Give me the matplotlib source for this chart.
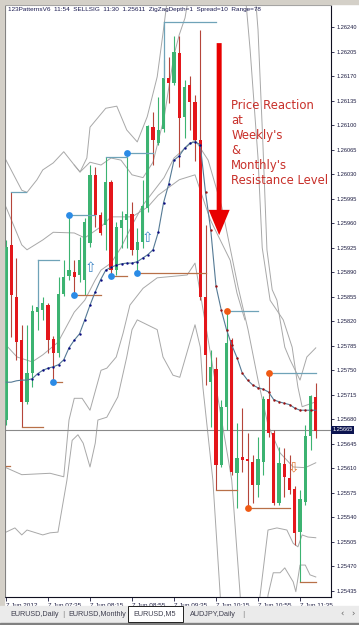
import numpy as np
import matplotlib
matplotlib.use('Agg')
import matplotlib.pyplot as plt
from matplotlib.patches import Rectangle

# EURUSD M5, 7 Jun 2012, bars from 06:55 to 11:50
opens = [1.25679, 1.25929, 1.25855, 1.25793, 1.25705, 1.25746, 1.25833, 1.25836, 1.25843, 1.25795,
         1.25775, 1.25859, 1.25885, 1.25890, 1.25886, 1.25879, 1.25932, 1.26029, 1.25972, 1.25957,
         1.26019, 1.25893, 1.25953, 1.25965, 1.25973, 1.25922, 1.25933, 1.25982, 1.26097, 1.26074,
         1.26094, 1.26167, 1.26160, 1.26203, 1.26112, 1.26157, 1.26133, 1.26079, 1.25855, 1.25733,
         1.25752, 1.25615, 1.25698, 1.25793, 1.25603, 1.25626, 1.25623, 1.25619, 1.25586, 1.25619,
         1.25709, 1.25661, 1.25561, 1.25616, 1.25596, 1.25581, 1.25519, 1.25562, 1.25656, 1.25712]
highs = [1.25936, 1.26004, 1.25910, 1.25815, 1.25815, 1.25843, 1.25850, 1.25855, 1.25846, 1.25799,
         1.25883, 1.25907, 1.25972, 1.25907, 1.25940, 1.25967, 1.26043, 1.26040, 1.25976, 1.26054,
         1.26022, 1.25962, 1.25977, 1.26060, 1.25990, 1.25953, 1.26022, 1.26100, 1.26119, 1.26140,
         1.26193, 1.26197, 1.26227, 1.26227, 1.26164, 1.26170, 1.26143, 1.26236, 1.25957, 1.25779,
         1.25769, 1.25708, 1.25832, 1.25796, 1.25675, 1.25696, 1.25661, 1.25629, 1.25655, 1.25713,
         1.25746, 1.25665, 1.25641, 1.25639, 1.25629, 1.25585, 1.25579, 1.25672, 1.25715, 1.25732]
lows = [1.25672, 1.25798, 1.25765, 1.25669, 1.25702, 1.25726, 1.25808, 1.25822, 1.25775, 1.25733,
        1.25769, 1.25856, 1.25879, 1.25857, 1.25876, 1.25857, 1.25926, 1.25955, 1.25943, 1.25922,
        1.25885, 1.25886, 1.25925, 1.25925, 1.25915, 1.25889, 1.25925, 1.25976, 1.26043, 1.26072,
        1.26090, 1.26132, 1.26157, 1.26040, 1.26082, 1.26093, 1.26049, 1.25850, 1.25729, 1.25669,
        1.25579, 1.25612, 1.25665, 1.25601, 1.25553, 1.25605, 1.25553, 1.25561, 1.25569, 1.25601,
        1.25655, 1.25558, 1.25558, 1.25569, 1.25573, 1.25501, 1.25448, 1.25558, 1.25636, 1.25653]
closes = [1.25926, 1.25857, 1.25790, 1.25705, 1.25746, 1.25835, 1.25840, 1.25846, 1.25793, 1.25775,
          1.25859, 1.25883, 1.25893, 1.25883, 1.25907, 1.25962, 1.26029, 1.25972, 1.25946, 1.26019,
          1.25893, 1.25955, 1.25965, 1.25973, 1.25922, 1.25933, 1.25985, 1.26099, 1.26079, 1.26093,
          1.26167, 1.26160, 1.26204, 1.26110, 1.26154, 1.26133, 1.26079, 1.25855, 1.25772, 1.25755,
          1.25615, 1.25698, 1.25789, 1.25605, 1.25625, 1.25622, 1.25621, 1.25586, 1.25623, 1.25709,
          1.25661, 1.25561, 1.25618, 1.25598, 1.25579, 1.25518, 1.25566, 1.25656, 1.25713, 1.25663]

# dotted moving average
ma = [1.25733, 1.25733, 1.25735, 1.25736, 1.25736, 1.25738, 1.25745, 1.25750, 1.25753, 1.25755,
      1.25758, 1.25765, 1.25782, 1.25793, 1.25802, 1.25822, 1.25843, 1.25862, 1.25879, 1.25893,
      1.25897, 1.25900, 1.25902, 1.25903, 1.25903, 1.25905, 1.25910, 1.25915, 1.25922, 1.25947,
      1.25989, 1.26016, 1.26050, 1.26056, 1.26067, 1.26074, 1.26076, 1.26072, 1.26004, 1.25950,
      1.25870, 1.25836, 1.25808, 1.25786, 1.25768, 1.25746, 1.25736, 1.25729, 1.25725, 1.25723,
      1.25719, 1.25708, 1.25705, 1.25703, 1.25701, 1.25696, 1.25693, 1.25693, 1.25693, 1.25693]

# band lines (bar position, price)
bands = {
    'u3': ([0, 3, 4, 5.9, 7, 9, 11, 13, 14.1, 16, 18.1, 20, 21.9, 24, 26.1, 28, 30.1, 31, 32, 33, 34.1, 35],
           [1.26050, 1.26007, 1.26004, 1.26022, 1.26036, 1.26046, 1.26062, 1.26043, 1.26033, 1.26047, 1.26043,
            1.26053, 1.26050, 1.26029, 1.26025, 1.26047, 1.26110, 1.26153, 1.26200, 1.26229, 1.26253, 1.26293]),
    'g1': ([13, 14.1, 15.4, 16, 19, 21.1, 23, 25, 26.9, 28.8, 29.9, 31.2],
           [1.26043, 1.26033, 1.26053, 1.26097, 1.26124, 1.26127, 1.26093, 1.26076, 1.26112, 1.26169,
            1.26231, 1.26307]),
    'u2': ([0, 3, 4, 7, 9, 13, 15, 18.1, 20, 24, 27, 29, 33, 36, 38.9, 42.7, 44, 45.5],
           [1.25983, 1.25929, 1.25922, 1.25936, 1.25947, 1.25946, 1.25939, 1.25955, 1.25969, 1.25969,
            1.25983, 1.26000, 1.26022, 1.26029, 1.25965, 1.25907, 1.25860, 1.25822]),
    'mid': ([0, 2.1, 5, 7, 9.9, 13, 15, 17, 18.1, 20, 21.9, 24, 26.1, 30.1, 32, 34.1, 36, 38.5, 41.1,
             44.2, 46.1, 48, 49.9, 52.2, 54.7, 57, 59],
            [1.25786, 1.25769, 1.25762, 1.25772, 1.25790, 1.25833, 1.25850, 1.25879, 1.25893, 1.25903,
             1.25925, 1.25957, 1.25986, 1.26025, 1.26053, 1.26067, 1.26079, 1.26050, 1.25983, 1.25869,
             1.25808, 1.25736, 1.25672, 1.25632, 1.25612, 1.25611, 1.25618]),
    'ra': ([45.5, 46.5, 48, 48.8, 50.3, 52.8, 54.5, 55.6, 56.4, 59],
           [1.26293, 1.26207, 1.26053, 1.25925, 1.25850, 1.25822, 1.25783, 1.25726, 1.25698, 1.25705]),
    'rb': ([47.4, 48, 48.9, 49.7, 50.7, 51.6, 52.2, 53.1, 54.1, 56, 57.3, 59],
           [1.26293, 1.26236, 1.26079, 1.25922, 1.25865, 1.25850, 1.25822, 1.25783, 1.25765, 1.25736,
            1.25769, 1.25782]),
    'l2': ([0, 3, 8.4, 11, 12, 13, 14.5, 16, 18.1, 19.2, 21, 22.3, 23.6, 26.1, 28.8, 34.5, 36, 37, 39.8,
            43, 44.6, 45],
           [1.25611, 1.25601, 1.25603, 1.25598, 1.25679, 1.25710, 1.25710, 1.25693, 1.25750, 1.25753,
            1.25769, 1.25803, 1.25843, 1.25867, 1.25882, 1.25886, 1.25903, 1.25860, 1.25736, 1.25593,
            1.25429, 1.25365]),
    'l2r': ([47.4, 48.4, 49.9, 51.6, 53.5, 54.7, 55.6, 56.4, 57.5, 59],
            [1.25365, 1.25429, 1.25522, 1.25525, 1.25522, 1.25503, 1.25498, 1.25515, 1.25512, 1.25511]),
    'l3': ([0, 1.7, 3, 4, 7, 8.4, 9.9, 11.6, 12.6, 13.7, 14.7, 16, 17, 17.5, 19.2, 21.3, 23, 24, 25,
            26.9, 28.8, 29.9, 31.8, 33.1, 36, 37, 37.5, 39.4, 40.8, 41.2],
           [1.25519, 1.25525, 1.25515, 1.25522, 1.25515, 1.25518, 1.25519, 1.25593, 1.25650, 1.25658,
            1.25646, 1.25612, 1.25646, 1.25679, 1.25683, 1.25712, 1.25769, 1.25808, 1.25822, 1.25815,
            1.25808, 1.25769, 1.25743, 1.25740, 1.25815, 1.25783, 1.25726, 1.25593, 1.25429, 1.25365]),
    'l3r': ([49.2, 49.9, 50.9, 52.2, 53.1, 54.7, 55.2, 56, 57, 57.9, 59],
            [1.25365, 1.25429, 1.25461, 1.25461, 1.25468, 1.25448, 1.25434, 1.25472, 1.25472, 1.25458,
             1.25455]),
}

# 123 pattern levels: (start bar, end bar, price)
teal_levels = [(1, 3.8, 1.26004), (6, 10, 1.25907), (12, 17, 1.25972), (19, 23, 1.26054),
               (23, 28, 1.26060), (30, 40, 1.26247), (42, 48, 1.25835), (50, 59, 1.25746)]
brown_levels = [(0, 0.8, 1.25613), (3, 7, 1.25669), (9, 10.7, 1.25733), (13, 18, 1.25857),
                (20, 23, 1.25885), (25, 38, 1.25889), (40, 44, 1.25579), (46, 54, 1.25553),
                (56, 59, 1.25448)]
blue_pts_x = [9, 12, 13, 20, 23, 25]
blue_pts_y = [1.25733, 1.25972, 1.25857, 1.25885, 1.26060, 1.25889]
orange_pts_x = [42, 46, 50]
orange_pts_y = [1.25835, 1.25553, 1.25746]
buy_arrows = [(16, 1.25896), (26.9, 1.25939)]
sell_arrows = [(54.8, 1.25612)]

current_price = 1.25665
yticks = [1.25435 + 0.00035 * k for k in range(24)]
xtick_bars = [0, 8, 16, 24, 32, 40, 48, 56]
xtick_labels = ['7 Jun 2012', '7 Jun 07:35', '7 Jun 08:15', '7 Jun 08:55',
                '7 Jun 09:35', '7 Jun 10:15', '7 Jun 10:55', '7 Jun 11:35']
tabs = ['EURUSD,Daily', 'EURUSD,Monthly', 'EURUSD,M5', 'AUDJPY,Daily']

W, H = 359, 625
fig = plt.figure(figsize=(W / 100, H / 100), dpi=100)
fig.patch.set_facecolor('white')
ax = fig.add_axes([5 / W, 28 / H, 326 / W, 592 / H])
ax.set_xlim(-0.19, 61.9)
ax.set_ylim(1.254264, 1.262714)

# bands
for name, (bx, by) in bands.items():
    ax.plot(bx, by, color='#a8a8a8', lw=0.7, zorder=2)

# current price line
ax.axhline(current_price, color='#8a8a8a', lw=0.8, zorder=2)

# candles
o = np.array(opens); h = np.array(highs); l = np.array(lows); c = np.array(closes)
idx = np.arange(len(o))
up = c >= o
body_col = np.where(up, '#3cb371', '#e4161b')
wick_col = np.where(up, '#3cb371', '#b5453a')
ax.vlines(idx, l, h, colors=wick_col, lw=0.8, zorder=3)
ax.bar(idx, np.maximum(np.abs(c - o), 0.000015), bottom=np.minimum(o, c), width=0.6,
       color=body_col, lw=0, zorder=4)

# pattern lines
for x0, x1, p in teal_levels:
    ax.plot([x0, x1], [p, p], color='#6fa3b8', lw=0.9, zorder=5)
ax.plot([6, 6], [1.25907, 1.25840], color='#6fa3b8', lw=0.9, zorder=5)
ax.plot([30, 30], [1.26247, 1.26167], color='#6fa3b8', lw=0.9, zorder=5)
for x0, x1, p in brown_levels:
    ax.plot([x0, x1], [p, p], color='#b87048', lw=0.9, zorder=5)

# dotted moving average
ma = np.array(ma)
ax.plot(idx, ma, color='#557a95', lw=0.8, zorder=6)
ax.scatter(idx[5:38], ma[5:38], s=3, color='#0a0a80', zorder=7, lw=0)
ax.scatter(idx[38:59], ma[38:59], s=3, color='#9b1010', zorder=7, lw=0)

ax.scatter(blue_pts_x, blue_pts_y, s=24, color='#2b8be6', zorder=8, lw=0)
ax.scatter(orange_pts_x, orange_pts_y, s=24, color='#f05a14', zorder=8, lw=0)
for bx, p in buy_arrows:
    ax.text(bx, p, '\u21e7', color='#3d86c6', fontsize=10, ha='center', va='center', zorder=8)
for bx, p in sell_arrows:
    ax.text(bx, p, '\u21e9', color='#e07a3a', fontsize=10, ha='center', va='center', zorder=8)

# annotation
ax.arrow(40.6, 1.26217, 0, 1.25943 - 1.26217, width=0.95, head_width=4.0, head_length=0.00036,
         length_includes_head=True, color='#e80000', lw=0, zorder=9)
ax.text(42.9, 1.26137, "Price Reaction\nat\nWeekly's\n&\nMonthly's\nResistance Level",
        color='#c8302a', fontsize=8.4, va='top', ha='left', linespacing=1.2, clip_on=True, zorder=9)

ax.text(0.009, 0.997, '123PatternsV6  11:54  SELLSIG  11:30  1.25611  ZigZagDepth=1  Spread=10  Range=78',
        transform=ax.transAxes, fontsize=4.6, family='Liberation Sans', color='#1a1a50',
        va='top', ha='left')

# axes styling
ax.yaxis.tick_right()
ax.set_yticks(yticks)
ax.set_yticklabels(['%.5f' % v for v in yticks])
ax.set_xticks(xtick_bars)
ax.set_xticklabels(xtick_labels, ha='left')
ax.tick_params(axis='y', length=2.5, width=0.6, pad=1.2, labelsize=4.1, colors='#1a1a40')
ax.tick_params(axis='x', length=3, width=0.6, pad=1.5, labelsize=4.6, colors='#1a1a40')
for lab in ax.get_xticklabels() + ax.get_yticklabels():
    lab.set_family('Liberation Sans')
ax.spines['right'].set_color('#101020')
ax.spines['bottom'].set_color('#101020')
ax.spines['left'].set_color('#707070')
ax.spines['top'].set_color('#9a9a9a')
for s in ax.spines.values():
    s.set_linewidth(0.8)

ax.text(1.004, current_price, '%.5f' % current_price, transform=ax.get_yaxis_transform(),
        fontsize=4.1, family='Liberation Sans', color='white', va='center', ha='left',
        bbox=dict(boxstyle='square,pad=0.25', fc='#0c1450', ec='none'), zorder=10, clip_on=False)

# window frame and tab strip
fig.patches.append(Rectangle((0, 1 - 4 / H), 1, 4 / H, transform=fig.transFigure, color='#d4d0c8'))
fig.patches.append(Rectangle((0, 0), 4 / W, 1, transform=fig.transFigure, color='#d4d0c8'))
fig.patches.append(Rectangle((0, 0), 1, 19 / H, transform=fig.transFigure, color='#ebebeb'))
fig.patches.append(Rectangle((0, 0), 1, 2 / H, transform=fig.transFigure, color='#808080'))
fig.patches.append(Rectangle((128 / W, 3 / H), 55 / W, 16 / H, transform=fig.transFigure,
                             fc='white', ec='#202020', lw=0.7))
tab_x = [10, 68, 133, 190]
for tx, name in zip(tab_x, tabs):
    fig.text(tx / W, 11 / H, name, fontsize=5.2, family='Liberation Sans', color='#404050', va='center')
fig.text(62 / W, 11 / H, '|', fontsize=5.2, color='#808080', va='center')
fig.text(242 / W, 11 / H, '|', fontsize=5.2, color='#808080', va='center')
fig.text(340 / W, 11 / H, '\u2039', fontsize=6, color='#606060', va='center')
fig.text(351 / W, 11 / H, '\u203a', fontsize=6, color='#606060', va='center')

fig.savefig('out.png', dpi=100)
